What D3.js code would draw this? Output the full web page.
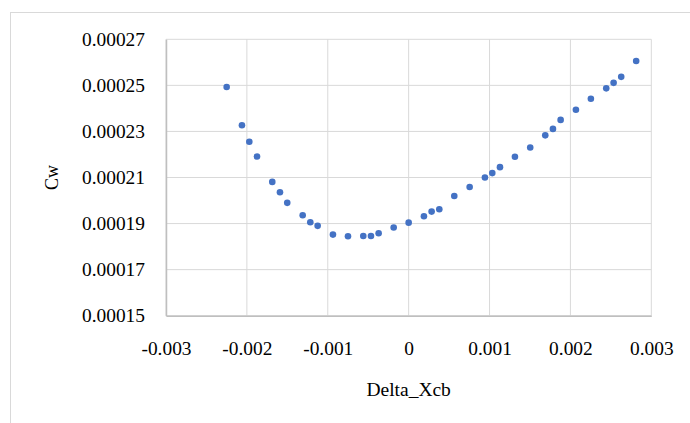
<!DOCTYPE html>
<html>
<head>
<meta charset="utf-8">
<script src="https://cdn.jsdelivr.net/npm/d3@7/dist/d3.min.js"></script>
<style>
  html, body { margin: 0; padding: 0; background: #fff; }
  svg { display: block; }
</style>
</head>
<body>
<svg id="chart" width="690" height="423"></svg>
<script>
// Wave resistance coefficient vs. longitudinal shift of centre of buoyancy
const deltaXcb = [
  -0.002250, -0.002061, -0.001970, -0.001875, -0.001686, -0.001591, -0.001501,
  -0.001310, -0.001216, -0.001125, -0.000936, -0.000750, -0.000561, -0.000466,
  -0.000371, -0.000185, 0.000000, 0.000189, 0.000284, 0.000379, 0.000564,
  0.000754, 0.000943, 0.001034, 0.001129, 0.001314, 0.001503, 0.001689,
  0.001784, 0.001879, 0.002068, 0.002253, 0.002443, 0.002534, 0.002628, 0.002813
];
const cw = [
  0.0002493, 0.0002327, 0.0002255, 0.0002191, 0.0002081, 0.0002036, 0.0001990,
  0.0001936, 0.0001906, 0.0001890, 0.0001852, 0.0001845, 0.0001846, 0.0001846,
  0.0001858, 0.0001883, 0.0001904, 0.0001932, 0.0001952, 0.0001962, 0.0002020,
  0.0002059, 0.0002100, 0.0002119, 0.0002145, 0.0002190, 0.0002230, 0.0002283,
  0.0002311, 0.0002350, 0.0002394, 0.0002442, 0.0002487, 0.0002511, 0.0002537, 0.0002606
];
const xTicks = [-0.003, -0.002, -0.001, 0, 0.001, 0.002, 0.003];
const xTickLabels = ["-0.003", "-0.002", "-0.001", "0", "0.001", "0.002", "0.003"];
const yTicks = [0.00015, 0.00017, 0.00019, 0.00021, 0.00023, 0.00025, 0.00027];
const yTickLabels = ["0.00015", "0.00017", "0.00019", "0.00021", "0.00023", "0.00025", "0.00027"];
const xTitle = "Delta_Xcb";
const yTitle = "Cw";

const points = deltaXcb.map((d, i) => ({ x: d, y: cw[i] }));

const FONT = "'Liberation Serif', Tinos, 'Times New Roman', Times, 'DejaVu Serif', serif";

const svg = d3.select("#chart");
const plotLeft = 166, plotRight = 651.3, plotTop = 39.3, plotBottom = 315.7;

const x = d3.scaleLinear().domain([-0.003, 0.003]).range([plotLeft, plotRight]);
const y = d3.scaleLinear().domain([0.00015, 0.00027]).range([plotBottom, plotTop]);

// chart frame
svg.append("rect")
  .attr("x", 10.5).attr("y", 12.5)
  .attr("width", 700).attr("height", 430)
  .attr("fill", "none").attr("stroke", "#d9d9d9").attr("stroke-width", 1);

// gridlines
const grid = svg.append("g");
grid.selectAll("line.h").data(yTicks).join("line")
  .attr("class", "h")
  .attr("x1", plotLeft).attr("x2", plotRight)
  .attr("y1", d => y(d)).attr("y2", d => y(d))
  .attr("stroke", "#d9d9d9").attr("stroke-width", 1);
grid.selectAll("line.v").data(xTicks).join("line")
  .attr("class", "v")
  .attr("x1", d => x(d)).attr("x2", d => x(d))
  .attr("y1", plotTop).attr("y2", plotBottom)
  .attr("stroke", "#d9d9d9").attr("stroke-width", 1);

// axes
const xAxis = d3.axisBottom(x).tickValues(xTicks)
  .tickFormat((d, i) => xTickLabels[i]).tickSize(0).tickPadding(25.5);
const yAxis = d3.axisLeft(y).tickValues(yTicks)
  .tickFormat((d, i) => yTickLabels[i]).tickSize(0).tickPadding(21);

const gx = svg.append("g").attr("transform", `translate(0,${plotBottom})`).call(xAxis);
const gy = svg.append("g").attr("transform", `translate(${plotLeft},0)`).call(yAxis);
[gx, gy].forEach(g => {
  g.attr("font-family", FONT).attr("font-size", 19.4);
  g.select(".domain").attr("stroke", "#bfbfbf").attr("stroke-width", 1.5);
  g.selectAll("text").attr("fill", "#000");
});

// data points
svg.append("g").selectAll("circle").data(points).join("circle")
  .attr("cx", d => x(d.x)).attr("cy", d => y(d.y))
  .attr("r", 3.3).attr("fill", "#4472c4");

// axis titles
svg.append("text")
  .attr("x", (plotLeft + plotRight) / 2).attr("y", 396)
  .attr("text-anchor", "middle")
  .attr("font-family", FONT).attr("font-size", 19.5)
  .text(xTitle);
svg.append("text")
  .attr("transform", `translate(58,${(plotTop + plotBottom) / 2}) rotate(-90)`)
  .attr("text-anchor", "middle")
  .attr("font-family", FONT).attr("font-size", 18)
  .text(yTitle);
</script>
</body>
</html>
